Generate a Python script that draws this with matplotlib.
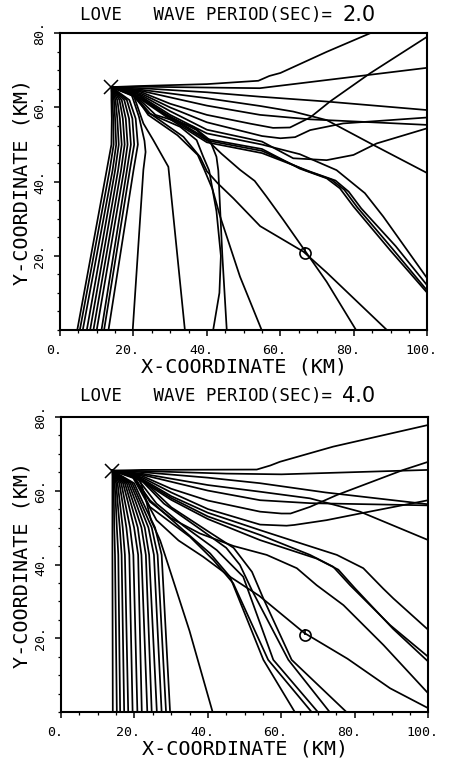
import matplotlib
matplotlib.use('Agg')
import matplotlib.pyplot as plt
from matplotlib.ticker import MultipleLocator, FixedLocator
from matplotlib.transforms import ScaledTranslation

plt.rcParams['font.family'] = ['DejaVu Sans Mono']

# ---- period 2.0 s (upper panel) ----
periods = ['2.0', '4.0']
source_t2 = (14.0, 65.5)
receiver_t2 = (66.8, 20.8)

rays_t2 = [
    [(22, 65.8), (40, 66.3), (54, 67.2), (57, 68.5), (60, 69.3), (72.6, 75.0), (84.4, 80)],
    [(22, 65.6), (54.4, 65.2), (100, 70.7)],
    [(22, 65.2), (40, 64.1), (54.5, 62.9), (72.6, 61.6), (100, 59.3)],
    [(22, 64.8), (40, 62.5), (54.5, 60.4), (63.5, 58.9), (72.6, 56.6), (85.3, 49.9), (100, 42.3)],
    [(22, 64.5), (40, 60.5), (54.5, 58), (68.1, 56.8), (100, 55.3)],
    [(22, 64.2), (30, 61), (40, 58), (52, 55.6), (58, 54.5), (62.6, 54.6), (68.1, 57.3),
     (73.5, 61.6), (84.4, 69.2), (100, 79.1)],
    [(22, 63.8), (30, 60), (40, 56), (55, 52.3), (60, 51.7), (64, 52), (68.1, 53.9),
     (77.1, 55.7), (100, 57.3)],
    [(22, 63.4), (30, 59), (40, 54), (55, 50.8), (63.5, 46.3), (72.6, 45.8), (79.9, 47.2),
     (86.2, 50.3), (100, 54.4)],
    [(22, 63), (30, 58), (40, 53), (55, 50), (65.3, 47.4), (75.3, 43.1), (83, 36.9),
     (88, 30.6), (100, 13.9)],
    [(22, 62.6), (30, 57.5), (40, 51.5), (55, 48.8), (65.3, 43.5), (72.6, 40.9), (76.2, 38.2),
     (79.9, 33.3), (89.8, 21.6), (100, 10.0)],
    [(22, 62.4), (30, 57.2), (40, 51.1), (55, 48.3), (66.7, 43.1), (73.8, 40.6), (77.4, 37.8),
     (81, 33), (90.6, 21.8), (100, 10.6)],
    [(22, 62.2), (30, 56.8), (40, 50.6), (55, 47.7), (68.1, 42.7), (75, 40.3), (78.6, 37.3),
     (82, 32.8), (91.4, 22.6), (100, 12.0)],
    [(19, 64.8), (24.5, 58.4), (33.6, 52.1), (38.1, 46.7), (40, 42.8), (43, 39.5), (47.2, 35.5),
     (54.5, 28), (66.3, 21.1), (72.6, 15.5), (89, 0)],
    [(20, 64.5), (28, 58.5), (37.2, 53.9), (44, 47.5), (49, 43.2), (53, 40.2), (56.2, 36),
     (60.8, 29.7), (66.6, 21.5), (72.6, 13), (80.6, 0)],
    [(19.5, 64.6), (24, 58), (32, 52.5), (37.5, 47.2), (39.3, 43.2), (41.5, 38), (43.6, 30.6),
     (49, 14.4), (54.9, 0)],
    [(18.5, 64.8), (24, 58.5), (32.7, 54.8), (37.2, 51.2), (39, 46.7), (40.6, 43), (42.6, 32),
     (43.8, 20), (43.4, 10), (41.7, 0)],
    [(19, 64.7), (26, 58), (36.3, 54.8), (40.8, 51.2), (42.6, 46.7), (43.1, 43), (44.2, 20),
     (45.4, 0)],
    [(19.5, 64.8), (22.7, 55.7), (25.4, 51.2), (29.5, 44), (34, 0)],
    [(19, 64.9), (21.5, 57.5), (23, 51), (23.3, 48), (22.7, 43.2), (19.8, 0)],
]

# rays bending down just below the source: x read at the levels below
fan_levels_t2 = [62, 57, 50, 43, 0]
fan_x_t2 = [
    [14.0, 14.3, 14.7, 15.1, 15.6, 16.2, 16.8, 17.5, 18.2, 18.9],
    [14.1, 14.5, 15.0, 15.6, 16.3, 17.1, 17.9, 18.8, 19.7, 20.6],
    [14.0, 14.6, 15.3, 16.0, 16.8, 17.6, 18.4, 19.3, 20.2, 21.2],
    [12.7, 13.5, 14.3, 15.0, 15.8, 16.6, 17.4, 18.2, 19.0, 20.0],
    [4.7, 5.4, 6.2, 7.3, 8.2, 9.1, 10.0, 11.3, 12.0, 13.2],
]

# ---- period 4.0 s (lower panel) ----
source_t4 = (14.0, 65.4)
receiver_t4 = (66.4, 20.9)

rays_t4 = [
    [(22, 65.6), (53.3, 65.7), (57, 66.8), (59.6, 67.8), (74.1, 71.9), (99.7, 77.7)],
    [(22, 65.3), (45, 64.6), (60, 64.4), (100, 65.6)],
    [(22, 65), (40, 63.5), (54.2, 62), (72, 59.5), (100, 56.3)],
    [(22, 64.6), (40, 61.5), (54.2, 59.7), (67.8, 57.9), (81.4, 54.3), (100, 46.6)],
    [(22, 64.3), (40, 60), (54.2, 57.4), (67.8, 56.6), (100, 56.0)],
    [(22, 64), (30, 60.5), (40, 57.3), (54.2, 54.3), (60, 53.8), (62.5, 53.8), (67.8, 55.6),
     (75.1, 58.8), (93.2, 65.6), (100, 67.8)],
    [(22, 63.6), (30, 59.5), (40, 55), (54.2, 50.8), (61.4, 50.5), (63.5, 50.7), (72.3, 52),
     (81.4, 53.8), (100, 57.4)],
    [(22, 63.2), (30, 58.5), (40, 54), (54.2, 49.3), (66, 45.5), (75.1, 42.6), (82.3, 39),
     (87.7, 33.5), (90.5, 30.8), (100, 22.3)],
    [(22, 62.9), (30, 58), (40, 53), (54.2, 48), (67.8, 42.6), (74.1, 39.4), (78.7, 34.4),
     (89.6, 23.6), (100, 15)],
    [(22, 62.6), (30, 57.5), (40, 52.3), (54.2, 46.6), (69.6, 41.6), (75.5, 38.6), (80, 33.6),
     (90.4, 22.6), (100, 13.7)],
    [(19.5, 64.5), (24.2, 57), (30, 52.5), (37.8, 48.4), (47, 45), (56, 42.6), (64.2, 39),
     (69.6, 34.4), (76.9, 29), (87.8, 18.2), (100, 5.1)],
    [(19, 64.6), (23, 57.5), (26, 52), (32, 46.5), (38.7, 42.1), (46, 36.7), (54, 31.5),
     (66.2, 21.5), (78, 14.5), (89.6, 6.5), (100, 1.1)],
    [(19, 64.7), (24.2, 57.4), (33.3, 49.3), (40.6, 43), (46, 36.7), (55.1, 14.2), (63.7, 0)],
    [(19.5, 64.5), (24.2, 55.6), (35.1, 47.5), (41.5, 41.2), (46.9, 34.9), (56.4, 14.2), (68.3, 0)],
    [(20, 64.3), (26, 56.5), (33.3, 50.5), (42.4, 43.9), (49.6, 36.7), (57.8, 14.2), (70, 0)],
    [(20.5, 64.2), (28, 56.5), (38, 49.5), (45, 44.5), (48.7, 39.9), (52, 33), (61.9, 14.2),
     (73.2, 0)],
    [(21, 64), (30, 55.5), (40, 49), (47, 44.5), (52, 38), (55, 31), (62.8, 14.2), (77.8, 0)],
    [(21, 64.5), (23, 58), (24.5, 52), (27, 46.5), (28.3, 42.6), (35, 22), (41.3, 0)],
]

fan_levels_t4 = [62, 57, 50, 42.6, 0]
fan_x_t4 = [
    [14.0, 14.3, 14.6, 15.0, 15.4, 15.9, 16.4, 16.9, 17.4, 17.9, 18.4, 18.9, 19.4, 19.9],
    [14.0, 14.4, 14.9, 15.4, 16.0, 16.7, 17.4, 18.2, 18.9, 19.6, 20.3, 21.0, 21.6, 22.2],
    [14.0, 14.5, 15.2, 16.0, 16.8, 17.8, 18.8, 19.9, 20.9, 21.9, 22.8, 23.8, 24.7, 25.6],
    [14.0, 14.7, 15.6, 16.5, 17.4, 18.6, 19.7, 21.0, 21.9, 23.1, 24.0, 25.3, 26.3, 27.4],
    [14.1, 15.2, 16.1, 17.2, 18.3, 19.5, 20.8, 22.0, 23.5, 24.7, 26.1, 27.4, 28.6, 29.7],
]

x_ticks = [0, 20, 40, 60, 80, 100]
x_tick_labels = ['0.', '20.', '40.', '60.', '80.', '100.']
y_ticks = [20, 40, 60, 80]
y_tick_labels = ['20.', '40.', '60.', '80.']

W, H = 455, 761
fig = plt.figure(figsize=(W / 100, H / 100), dpi=100)


def panel(box, source, rays, levels, fan_x, receiver, period, title_y):
    left, top, right, bottom = box
    ax = fig.add_axes([left / W, 1 - bottom / H, (right - left) / W, (bottom - top) / H])
    lw = 1.25
    for r in rays:
        xs = [source[0]] + [p[0] for p in r]
        ys = [source[1]] + [p[1] for p in r]
        ax.plot(xs, ys, color='k', lw=lw, solid_joinstyle='round')
    for i in range(len(fan_x[0])):
        xs = [source[0]] + [row[i] for row in fan_x]
        ys = [source[1]] + levels
        ax.plot(xs, ys, color='k', lw=lw)
    ax.plot(*source, marker='x', ms=10, mew=1.1, color='k')
    ax.plot(*receiver, marker='o', ms=8, mfc='none', mec='k', mew=1.2)
    ax.plot(receiver[0], receiver[1], marker=2, ms=4, mew=1.2, color='k')

    ax.set_xlim(0, 100)
    ax.set_ylim(0, 80)
    ax.xaxis.set_major_locator(FixedLocator(x_ticks))
    ax.yaxis.set_major_locator(FixedLocator(y_ticks))
    ax.set_xticklabels(x_tick_labels, fontsize=9.5)
    ax.set_yticklabels(y_tick_labels, fontsize=9.5, rotation=90, va='center')
    ax.xaxis.set_minor_locator(MultipleLocator(5))
    ax.yaxis.set_minor_locator(MultipleLocator(5))
    ax.tick_params(which='major', direction='out', length=4, width=1.1, pad=6)
    ax.tick_params(which='minor', direction='out', length=2.5, width=0.9)
    shift = ScaledTranslation(-6 / 100, 0, fig.dpi_scale_trans)
    for lab in ax.get_xticklabels():
        lab.set_transform(lab.get_transform() + shift)
    for s in ax.spines.values():
        s.set_linewidth(1.5)

    fig.text(80 / W, 1 - title_y / H, 'LOVE   WAVE PERIOD(SEC)=', fontsize=12.5,
             ha='left', va='center')
    fig.text(342 / W, 1 - title_y / H, period, fontsize=15, ha='left', va='center',
             family='DejaVu Sans')
    fig.text((left + right) / 2 / W, 1 - (bottom + 37) / H, 'X-COORDINATE (KM)',
             fontsize=14.5, ha='center', va='center')
    fig.text(22 / W, 1 - (top + bottom) / 2 / H, 'Y-COORDINATE (KM)', fontsize=14.5,
             ha='center', va='center', rotation=90)
    return ax


panel((60, 33.3, 427.3, 330), source_t2, rays_t2, fan_levels_t2, fan_x_t2,
      receiver_t2, periods[0], 15)
panel((61, 416.7, 428.3, 712.3), source_t4, rays_t4, fan_levels_t4, fan_x_t4,
      receiver_t4, periods[1], 396)

fig.savefig('out.png', dpi=100)
